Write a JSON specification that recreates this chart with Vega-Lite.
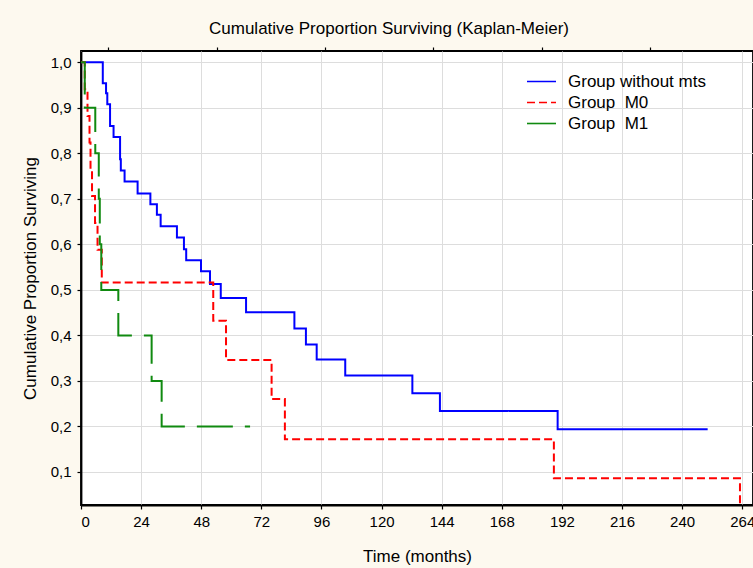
{
  "$schema": "https://vega.github.io/schema/vega-lite/v6.json",
  "autosize": {"type": "none"},
  "width": 672,
  "height": 454,
  "padding": {"left": 81, "top": 51, "right": 0, "bottom": 63},
  "background": "#fdf9ef",
  "view": {"fill": "white", "stroke": "black", "strokeWidth": 1.8},
  "title": {
    "text": "Cumulative Proportion Surviving (Kaplan-Meier)",
    "font": "Liberation Sans",
    "fontSize": 17,
    "fontWeight": "normal",
    "color": "black",
    "anchor": "middle",
    "dx": -28,
    "offset": 8
  },
  "config": {
    "axis": {
      "labelFont": "Liberation Sans",
      "labelFontSize": 15,
      "labelColor": "black",
      "titleFont": "Liberation Sans",
      "titleFontSize": 17,
      "titleFontWeight": "normal",
      "titleColor": "black",
      "domainColor": "black",
      "domainWidth": 1.8,
      "tickColor": "black",
      "tickSize": 4,
      "tickWidth": 1.2,
      "gridColor": "#dddddd",
      "gridWidth": 1
    }
  },
  "datasets": {
    "km": [
      {"group": "Group without mts", "t": 0, "s": 1.0},
      {"group": "Group without mts", "t": 8.7, "s": 0.954},
      {"group": "Group without mts", "t": 10.0, "s": 0.932},
      {"group": "Group without mts", "t": 10.5, "s": 0.908},
      {"group": "Group without mts", "t": 11.6, "s": 0.86},
      {"group": "Group without mts", "t": 13.0, "s": 0.836},
      {"group": "Group without mts", "t": 15.6, "s": 0.787},
      {"group": "Group without mts", "t": 15.9, "s": 0.762},
      {"group": "Group without mts", "t": 17.4, "s": 0.738},
      {"group": "Group without mts", "t": 22.6, "s": 0.712},
      {"group": "Group without mts", "t": 27.7, "s": 0.688},
      {"group": "Group without mts", "t": 30.3, "s": 0.665},
      {"group": "Group without mts", "t": 31.8, "s": 0.64},
      {"group": "Group without mts", "t": 38.3, "s": 0.615},
      {"group": "Group without mts", "t": 41.1, "s": 0.589},
      {"group": "Group without mts", "t": 42.0, "s": 0.565},
      {"group": "Group without mts", "t": 47.9, "s": 0.541},
      {"group": "Group without mts", "t": 51.5, "s": 0.513},
      {"group": "Group without mts", "t": 55.8, "s": 0.482},
      {"group": "Group without mts", "t": 65.9, "s": 0.451},
      {"group": "Group without mts", "t": 85.2, "s": 0.415},
      {"group": "Group without mts", "t": 89.8, "s": 0.38},
      {"group": "Group without mts", "t": 94.1, "s": 0.347},
      {"group": "Group without mts", "t": 105.5, "s": 0.312},
      {"group": "Group without mts", "t": 132.3, "s": 0.273},
      {"group": "Group without mts", "t": 143.3, "s": 0.234},
      {"group": "Group without mts", "t": 190.3, "s": 0.194},
      {"group": "Group without mts", "t": 250.2, "s": 0.194},
      {"group": "Group \u00a0M0", "t": 0, "s": 1.0},
      {"group": "Group \u00a0M0", "t": 1.5, "s": 0.941},
      {"group": "Group \u00a0M0", "t": 2.6, "s": 0.882},
      {"group": "Group \u00a0M0", "t": 3.4, "s": 0.824},
      {"group": "Group \u00a0M0", "t": 3.8, "s": 0.765},
      {"group": "Group \u00a0M0", "t": 4.4, "s": 0.706},
      {"group": "Group \u00a0M0", "t": 5.6, "s": 0.647},
      {"group": "Group \u00a0M0", "t": 6.6, "s": 0.588},
      {"group": "Group \u00a0M0", "t": 8.3, "s": 0.516},
      {"group": "Group \u00a0M0", "t": 52.8, "s": 0.432},
      {"group": "Group \u00a0M0", "t": 57.9, "s": 0.346},
      {"group": "Group \u00a0M0", "t": 76.1, "s": 0.26},
      {"group": "Group \u00a0M0", "t": 81.4, "s": 0.172},
      {"group": "Group \u00a0M0", "t": 188.8, "s": 0.086},
      {"group": "Group \u00a0M0", "t": 263.1, "s": 0.0},
      {"group": "Group \u00a0M1", "t": 0, "s": 1.0},
      {"group": "Group \u00a0M1", "t": 1.5, "s": 0.9},
      {"group": "Group \u00a0M1", "t": 5.7, "s": 0.8},
      {"group": "Group \u00a0M1", "t": 7.1, "s": 0.7},
      {"group": "Group \u00a0M1", "t": 7.5, "s": 0.6},
      {"group": "Group \u00a0M1", "t": 8.1, "s": 0.5},
      {"group": "Group \u00a0M1", "t": 14.9, "s": 0.4},
      {"group": "Group \u00a0M1", "t": 28.2, "s": 0.3},
      {"group": "Group \u00a0M1", "t": 32.2, "s": 0.2},
      {"group": "Group \u00a0M1", "t": 67.5, "s": 0.2}
    ]
  },
  "data": {"name": "km"},
  "layer": [
    {
      "mark": {"type": "rule", "strokeOpacity": 0},
      "encoding": {
        "x": {
          "field": "t",
          "type": "quantitative",
          "scale": {"domain": [0, 268.3], "nice": false, "zero": false},
          "axis": {
            "orient": "top",
            "values": [10.8, 54.1, 97.4, 140.7, 184.0, 227.3],
            "labels": false,
            "grid": false,
            "domain": false,
            "title": null,
            "tickSize": 4
          }
        }
      }
    },
    {
      "mark": {"type": "line", "interpolate": "step-after", "strokeWidth": 2, "clip": true},
      "encoding": {
        "x": {
          "field": "t",
          "type": "quantitative",
          "scale": {"domain": [0, 268.3], "nice": false, "zero": false},
          "axis": {
            "orient": "bottom",
            "values": [0, 24, 48, 72, 96, 120, 144, 168, 192, 216, 240, 264],
            "title": "Time (months)",
            "labelPadding": 5,
            "titlePadding": 19,
            "grid": true
          }
        },
        "y": {
          "field": "s",
          "type": "quantitative",
          "scale": {"domain": [0.0274, 1.0248], "nice": false, "zero": false},
          "axis": {
            "values": [0.1, 0.2, 0.3, 0.4, 0.5, 0.6, 0.7, 0.8, 0.9, 1.0],
            "labelExpr": "replace(format(datum.value, '.1f'), '.', ',')",
            "title": "Cumulative Proportion Surviving",
            "labelPadding": 6,
            "titlePadding": 11,
            "grid": true
          }
        },
        "color": {
          "field": "group",
          "type": "nominal",
          "scale": {
            "domain": ["Group without mts", "Group \u00a0M0", "Group \u00a0M1"],
            "range": ["#0000ff", "#ff0000", "#108a10"]
          },
          "legend": {
            "title": null,
            "orient": "none",
            "legendX": 445,
            "legendY": 20,
            "padding": 0,
            "symbolType": "stroke",
            "symbolSize": 841,
            "symbolStrokeWidth": 1.6,
            "labelFont": "Liberation Sans",
            "labelFontSize": 17,
            "labelColor": "black",
            "labelOffset": 11,
            "clipHeight": 21,
            "rowPadding": 0
          }
        },
        "strokeDash": {
          "field": "group",
          "type": "nominal",
          "scale": {
            "domain": ["Group without mts", "Group \u00a0M0", "Group \u00a0M1"],
            "range": [[1, 0], [8, 4], [36, 12]]
          },
          "legend": {
            "title": null,
            "orient": "none",
            "legendX": 445,
            "legendY": 20,
            "padding": 0,
            "symbolType": "stroke",
            "symbolSize": 841,
            "symbolStrokeWidth": 1.6,
            "labelFont": "Liberation Sans",
            "labelFontSize": 17,
            "labelColor": "black",
            "labelOffset": 11,
            "clipHeight": 21,
            "rowPadding": 0
          }
        }
      }
    }
  ]
}
